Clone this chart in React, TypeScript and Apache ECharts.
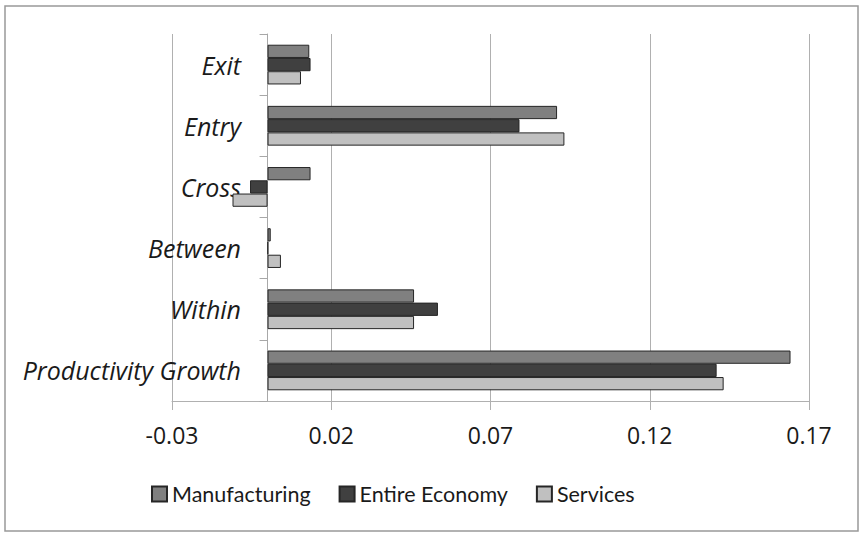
import React, { useEffect, useRef } from "react";
import * as echarts from "echarts";

const categories = ["Productivity Growth", "Within", "Between", "Cross", "Entry", "Exit"];
const manufacturing = [0.1642, 0.046, 0.001, 0.0135, 0.0909, 0.0131];
const entireEconomy = [0.141, 0.0535, 0.0002, -0.0055, 0.0791, 0.0135];
const services = [0.1432, 0.046, 0.0042, -0.011, 0.0932, 0.0105];
const xMin = -0.03;
const xMax = 0.17;
const xStep = 0.05;

export default function App() {
  const ref = useRef<HTMLDivElement>(null);
  useEffect(() => {
    document.body.style.margin = "0";
    const chart = echarts.init(ref.current!, null, { renderer: "svg" });
    const lato = "Lato, 'Open Sans', sans-serif";
    const open = "'Open Sans', 'Noto Sans', sans-serif";
    const border = { borderColor: "#262626", borderWidth: 1 };
    chart.setOption({
      animation: false,
      backgroundColor: "#ffffff",
      textStyle: { fontFamily: lato },
      graphic: [
        {
          type: "rect",
          shape: { x: 5, y: 6, width: 853, height: 525 },
          style: { fill: "none", stroke: "#999999", lineWidth: 1.5 },
          silent: true,
        },
      ],
      grid: {
        left: 172,
        right: 52,
        top: 34,
        bottom: 132,
        containLabel: false,
        outerBoundsMode: "none",
      },
      legend: {
        data: ["Manufacturing", "Entire Economy", "Services"],
        left: 146,
        top: 478,
        itemWidth: 15,
        itemHeight: 15,
        itemGap: 28,
        icon: "rect",
        textStyle: { fontSize: 21.5, color: "#1a1a1a", fontFamily: lato },
      },
      xAxis: {
        type: "value",
        min: xMin,
        max: xMax,
        interval: xStep,
        axisLine: { show: true, onZero: false, lineStyle: { color: "#b0b0b0", width: 1 } },
        axisTick: { show: true, length: 9, lineStyle: { color: "#b0b0b0" } },
        axisLabel: {
          fontSize: 23,
          fontFamily: open,
          color: "#1a1a1a",
          margin: 22,
          formatter: (v: number) => v.toFixed(2),
        },
        splitLine: { show: true, lineStyle: { color: "#b0b0b0", width: 1 } },
      },
      yAxis: {
        type: "category",
        data: categories,
        axisLine: { show: true, onZero: true, lineStyle: { color: "#a8a8a8", width: 1 } },
        axisTick: { show: true, length: 8, lineStyle: { color: "#a8a8a8" } },
        axisLabel: {
          fontSize: 25,
          fontFamily: open,
          fontStyle: "italic",
          color: "#1a1a1a",
          margin: -69,
        },
        splitLine: { show: false },
      },
      series: [
        {
          name: "Manufacturing",
          type: "bar",
          data: manufacturing,
          itemStyle: { color: "#808080", ...border },
          barGap: "0%",
          barCategoryGap: "35%",
        },
        {
          name: "Entire Economy",
          type: "bar",
          data: entireEconomy,
          itemStyle: { color: "#404040", ...border },
          barGap: "0%",
          barCategoryGap: "35%",
        },
        {
          name: "Services",
          type: "bar",
          data: services,
          itemStyle: { color: "#c0c0c0", ...border },
          barGap: "0%",
          barCategoryGap: "35%",
        },
      ],
    });
    return () => chart.dispose();
  }, []);
  return <div ref={ref} style={{ width: 861, height: 533 }} />;
}
